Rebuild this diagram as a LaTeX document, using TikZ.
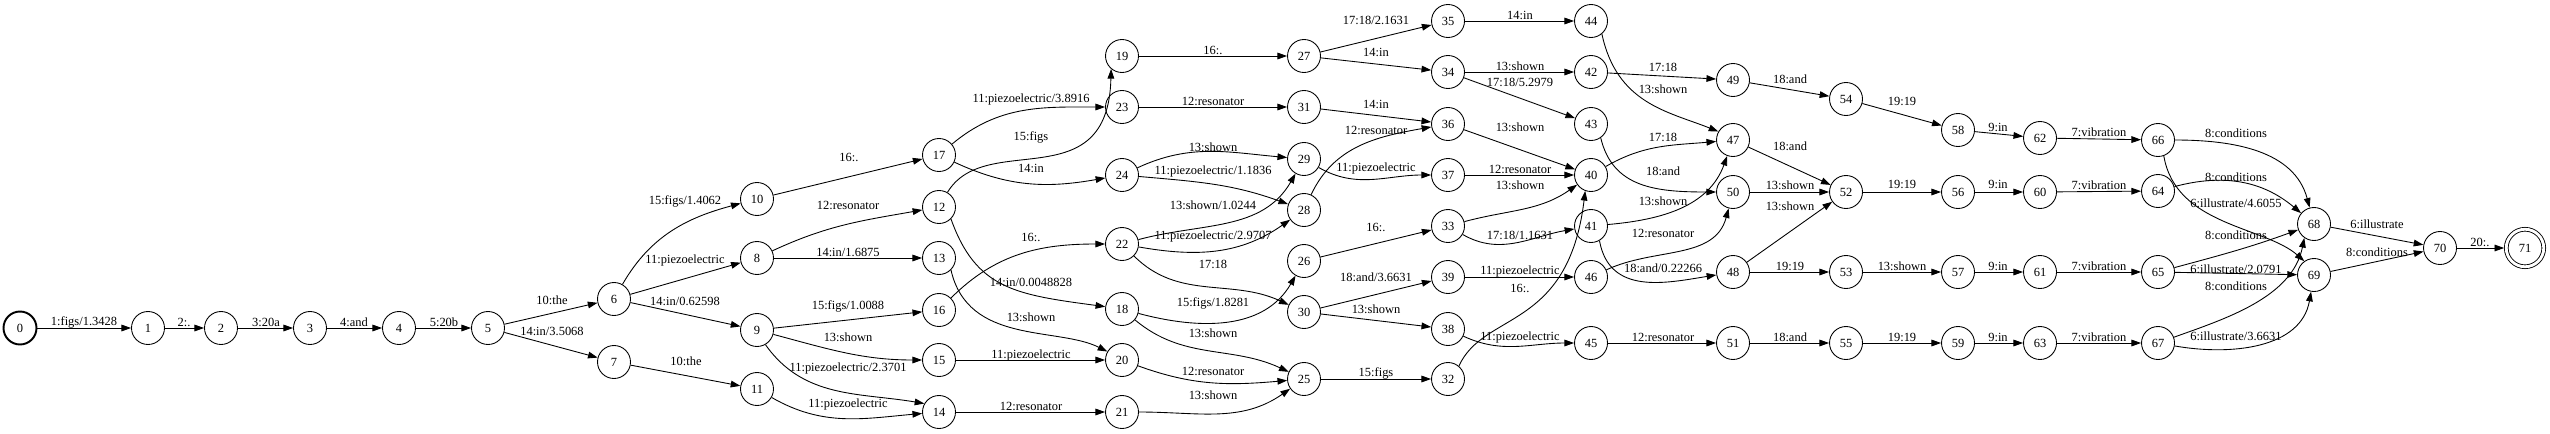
\documentclass[tikz,border=0pt]{standalone}
\usepackage{fontspec}
\setmainfont{Liberation Serif}
\usetikzlibrary{arrows.meta}
\begin{document}
\begin{tikzpicture}[x=0.02cm,y=0.02cm,
   state/.style={circle,draw,line width=0.5pt,minimum size=0.66cm,inner sep=0pt,font=\fontsize{7.1}{8}\selectfont},
   start/.style={state,line width=1.1pt},
   final/.style={state,double,double distance=1.6pt,minimum size=0.75cm,outer sep=1.2pt},
   arc/.style={line width=0.5pt,-{Triangle[length=5.5pt,width=3.8pt]}},
   lbl/.style={inner sep=0pt,font=\fontsize{7.1}{8}\selectfont}]
   \useasboundingbox (0,0) rectangle (2550,-433);
   \node [start] (s0) at (20,-328) {0};
   \node [state] (s1) at (148,-328) {1};
   \node [state] (s2) at (221,-328) {2};
   \node [state] (s3) at (310,-328) {3};
   \node [state] (s4) at (399,-328) {4};
   \node [state] (s5) at (488,-328) {5};
   \node [state] (s6) at (614,-299) {6};
   \node [state] (s7) at (614,-362) {7};
   \node [state] (s10) at (757,-199) {10};
   \node [state] (s8) at (757,-258) {8};
   \node [state] (s9) at (757,-330) {9};
   \node [state] (s11) at (757,-389) {11};
   \node [state] (s17) at (939,-155) {17};
   \node [state] (s12) at (939,-207) {12};
   \node [state] (s13) at (939,-258) {13};
   \node [state] (s16) at (939,-310) {16};
   \node [state] (s15) at (939,-360) {15};
   \node [state] (s14) at (939,-412) {14};
   \node [state] (s19) at (1122,-56) {19};
   \node [state] (s23) at (1122,-107) {23};
   \node [state] (s24) at (1122,-175) {24};
   \node [state] (s22) at (1122,-244) {22};
   \node [state] (s18) at (1122,-309) {18};
   \node [state] (s20) at (1122,-360) {20};
   \node [state] (s21) at (1122,-412) {21};
   \node [state] (s27) at (1304,-56) {27};
   \node [state] (s31) at (1304,-107) {31};
   \node [state] (s29) at (1304,-159) {29};
   \node [state] (s28) at (1304,-210) {28};
   \node [state] (s26) at (1304,-261) {26};
   \node [state] (s30) at (1304,-312) {30};
   \node [state] (s25) at (1304,-379) {25};
   \node [state] (s35) at (1448,-21) {35};
   \node [state] (s34) at (1448,-72) {34};
   \node [state] (s36) at (1448,-124) {36};
   \node [state] (s37) at (1448,-175) {37};
   \node [state] (s33) at (1448,-226) {33};
   \node [state] (s39) at (1448,-277) {39};
   \node [state] (s38) at (1448,-329) {38};
   \node [state] (s32) at (1448,-379) {32};
   \node [state] (s44) at (1591,-21) {44};
   \node [state] (s42) at (1591,-72) {42};
   \node [state] (s43) at (1591,-124) {43};
   \node [state] (s40) at (1591,-175) {40};
   \node [state] (s41) at (1591,-226) {41};
   \node [state] (s46) at (1591,-277) {46};
   \node [state] (s45) at (1591,-343) {45};
   \node [state] (s49) at (1733,-80) {49};
   \node [state] (s47) at (1733,-140) {47};
   \node [state] (s50) at (1733,-192) {50};
   \node [state] (s48) at (1733,-272) {48};
   \node [state] (s51) at (1733,-343) {51};
   \node [state] (s54) at (1846,-99) {54};
   \node [state] (s52) at (1846,-192) {52};
   \node [state] (s53) at (1846,-272) {53};
   \node [state] (s55) at (1846,-343) {55};
   \node [state] (s58) at (1958,-130) {58};
   \node [state] (s56) at (1958,-192) {56};
   \node [state] (s57) at (1958,-272) {57};
   \node [state] (s59) at (1958,-343) {59};
   \node [state] (s62) at (2040,-138) {62};
   \node [state] (s60) at (2040,-192) {60};
   \node [state] (s61) at (2040,-272) {61};
   \node [state] (s63) at (2040,-343) {63};
   \node [state] (s66) at (2158,-140) {66};
   \node [state] (s64) at (2158,-191) {64};
   \node [state] (s65) at (2158,-272) {65};
   \node [state] (s67) at (2158,-343) {67};
   \node [state] (s68) at (2314,-224) {68};
   \node [state] (s69) at (2314,-275) {69};
   \node [state] (s70) at (2440,-248) {70};
   \node [final] (s71) at (2525,-248) {71};
   \draw [arc] (s0) -- (s1);
   \draw [arc] (s1) -- (s2);
   \draw [arc] (s2) -- (s3);
   \draw [arc] (s3) -- (s4);
   \draw [arc] (s4) -- (s5);
   \draw [arc] (s5) -- (s6);
   \draw [arc] (s5) -- (s7);
   \draw [arc] (s6) to[out=60,in=195] (s10);
   \draw [arc] (s6) -- (s8);
   \draw [arc] (s6) -- (s9);
   \draw [arc] (s7) -- (s11);
   \draw [arc] (s10) -- (s17);
   \draw [arc] (s8) to[out=25,in=190] (s12);
   \draw [arc] (s8) -- (s13);
   \draw [arc] (s9) -- (s16);
   \draw [arc] (s9) to[out=-15,in=180] (s15);
   \draw [arc] (s9.-60) .. controls +(38,-54) and +(-65,11) .. (s14.150);
   \draw [arc] (s11) to[out=-30,in=185] (s14);
   \draw [arc] (s17) to[out=40,in=180] (s23);
   \draw [arc] (s17) to[out=-25,in=190] (s24);
   \draw [arc] (s12.60) .. controls +(38,63) and +(-3,-131) .. (s19.230);
   \draw [arc] (s12.-45) .. controls +(25,-70) and +(-90,12) .. (s18.172);
   \draw [arc] (s13.-45) .. controls +(17,-75) and +(-50,25) .. (s20.150);
   \draw [arc] (s16) to[out=45,in=180] (s22);
   \draw [arc] (s15) -- (s20);
   \draw [arc] (s14) -- (s21);
   \draw [arc] (s19) -- (s27);
   \draw [arc] (s23) -- (s31);
   \draw [arc] (s24) to[out=25,in=175] (s29);
   \draw [arc] (s24) to[out=-5,in=160] (s28);
   \draw [arc] (s22) to[out=15,in=240] (s29);
   \draw [arc] (s22) to[out=-10,in=215] (s28);
   \draw [arc] (s22) to[out=-45,in=155] (s30);
   \draw [arc] (s18) to[out=-15,in=240] (s26);
   \draw [arc] (s18) to[out=-40,in=155] (s25);
   \draw [arc] (s20) to[out=-20,in=185] (s25);
   \draw [arc] (s21) to[out=0,in=215] (s25);
   \draw [arc] (s27) -- (s35);
   \draw [arc] (s27) -- (s34);
   \draw [arc] (s31) -- (s36);
   \draw [arc] (s28) to[out=65,in=190] (s36);
   \draw [arc] (s29) to[out=-30,in=180] (s37);
   \draw [arc] (s26) -- (s33);
   \draw [arc] (s30) -- (s39);
   \draw [arc] (s30) -- (s38);
   \draw [arc] (s25) -- (s32);
   \draw [arc] (s35) -- (s44);
   \draw [arc] (s34) -- (s42);
   \draw [arc] (s34) -- (s43);
   \draw [arc] (s36) -- (s40);
   \draw [arc] (s37) -- (s40);
   \draw [arc] (s33) to[out=15,in=215] (s40);
   \draw [arc] (s33) to[out=-30,in=190] (s41);
   \draw [arc] (s39) -- (s46);
   \draw [arc] (s32.50) .. controls +(25,55) and +(-17,-140) .. (s40.250);
   \draw [arc] (s38) to[out=-25,in=180] (s45);
   \draw [arc] (s42) -- (s49);
   \draw [arc] (s44.-50) .. controls +(15,-70) and +(-50,20) .. (s47.150);
   \draw [arc] (s43.-55) .. controls +(12,-50) and +(-60,0) .. (s50.180);
   \draw [arc] (s40) to[out=30,in=185] (s47);
   \draw [arc] (s41) to[out=5,in=250] (s47);
   \draw [arc] (s46) to[out=25,in=255] (s50);
   \draw [arc] (s41.-60) .. controls +(10,-55) and +(-50,-8) .. (s48.190);
   \draw [arc] (s45) -- (s51);
   \draw [arc] (s49) -- (s54);
   \draw [arc] (s47) -- (s52);
   \draw [arc] (s50) -- (s52);
   \draw [arc] (s48) -- (s52);
   \draw [arc] (s48) -- (s53);
   \draw [arc] (s51) -- (s55);
   \draw [arc] (s54) -- (s58);
   \draw [arc] (s52) -- (s56);
   \draw [arc] (s53) -- (s57);
   \draw [arc] (s55) -- (s59);
   \draw [arc] (s58) -- (s62);
   \draw [arc] (s56) -- (s60);
   \draw [arc] (s57) -- (s61);
   \draw [arc] (s59) -- (s63);
   \draw [arc] (s62) -- (s66);
   \draw [arc] (s60) -- (s64);
   \draw [arc] (s61) -- (s65);
   \draw [arc] (s63) -- (s67);
   \draw [arc] (s66) to[out=0,in=105] (s68);
   \draw [arc] (s64) to[out=15,in=140] (s68);
   \draw [arc] (s66.-70) .. controls +(12,-70) and +(-40,35) .. (s69.125);
   \draw [arc] (s65) to[out=15,in=200] (s68);
   \draw [arc] (s65) -- (s69);
   \draw [arc] (s67.20) .. controls +(50,18) and +(-12,-60) .. (s68.235);
   \draw [arc] (s67) to[out=-10,in=260] (s69);
   \draw [arc] (s68) -- (s70);
   \draw [arc] (s69) -- (s70);
   \draw [arc] (s70) -- (s71);
   \node [lbl] (e0-1) at (84,-322) {1:figs/1.3428};
   \node [lbl] (e1-2) at (184,-322) {2:.};
   \node [lbl] (e2-3) at (266,-322) {3:20a};
   \node [lbl] (e3-4) at (354,-322) {4:and};
   \node [lbl] (e4-5) at (444,-322) {5:20b};
   \node [lbl] (e5-6) at (552,-300) {10:the};
   \node [lbl] (e5-7) at (552,-331) {14:in/3.5068};
   \node [lbl] (e6-10) at (685,-201) {15:figs/1.4062};
   \node [lbl] (e6-8) at (685,-260) {11:piezoelectric};
   \node [lbl] (e6-9) at (685,-301) {14:in/0.62598};
   \node [lbl] (e7-11) at (686,-361) {10:the};
   \node [lbl] (e10-17) at (849,-157) {16:.};
   \node [lbl] (e8-12) at (848,-205) {12:resonator};
   \node [lbl] (e8-13) at (848,-252) {14:in/1.6875};
   \node [lbl] (e9-16) at (848,-306) {15:figs/1.0088};
   \node [lbl] (e9-15) at (848,-337) {13:shown};
   \node [lbl] (e9-14) at (848,-368) {11:piezoelectric/2.3701};
   \node [lbl] (e11-14) at (848,-404) {11:piezoelectric};
   \node [lbl] (e17-23) at (1031,-99) {11:piezoelectric/3.8916};
   \node [lbl] (e12-19) at (1031,-137) {15:figs};
   \node [lbl] (e17-24) at (1031,-168) {14:in};
   \node [lbl] (e16-22) at (1031,-237) {16:.};
   \node [lbl] (e12-18) at (1031,-282) {14:in/0.0048828};
   \node [lbl] (e13-20) at (1031,-317) {13:shown};
   \node [lbl] (e15-20) at (1031,-355) {11:piezoelectric};
   \node [lbl] (e14-21) at (1031,-406) {12:resonator};
   \node [lbl] (e19-27) at (1213,-50) {16:.};
   \node [lbl] (e23-31) at (1213,-101) {12:resonator};
   \node [lbl] (e24-29) at (1213,-147) {13:shown};
   \node [lbl] (e24-28) at (1213,-171) {11:piezoelectric/1.1836};
   \node [lbl] (e22-29) at (1213,-205) {13:shown/1.0244};
   \node [lbl] (e22-28) at (1213,-236) {11:piezoelectric/2.9707};
   \node [lbl] (e22-30) at (1213,-264) {17:18};
   \node [lbl] (e18-26) at (1213,-303) {15:figs/1.8281};
   \node [lbl] (e18-25) at (1213,-333) {13:shown};
   \node [lbl] (e20-25) at (1213,-371) {12:resonator};
   \node [lbl] (e21-25) at (1213,-395) {13:shown};
   \node [lbl] (e27-35) at (1376,-20) {17:18/2.1631};
   \node [lbl] (e27-34) at (1376,-52) {14:in};
   \node [lbl] (e31-36) at (1376,-104) {14:in};
   \node [lbl] (e28-36) at (1376,-130) {12:resonator};
   \node [lbl] (e29-37) at (1376,-168) {11:piezoelectric};
   \node [lbl] (e26-33) at (1376,-227) {16:.};
   \node [lbl] (e30-39) at (1376,-277) {18:and/3.6631};
   \node [lbl] (e30-38) at (1376,-309) {13:shown};
   \node [lbl] (e25-32) at (1376,-373) {15:figs};
   \node [lbl] (e35-44) at (1520,-15) {14:in};
   \node [lbl] (e34-42) at (1520,-66) {13:shown};
   \node [lbl] (e34-43) at (1520,-82) {17:18/5.2979};
   \node [lbl] (e36-40) at (1520,-127) {13:shown};
   \node [lbl] (e37-40) at (1520,-169) {12:resonator};
   \node [lbl] (e33-40) at (1520,-185) {13:shown};
   \node [lbl] (e33-41) at (1520,-235) {17:18/1.1631};
   \node [lbl] (e39-46) at (1520,-271) {11:piezoelectric};
   \node [lbl] (e32-40) at (1520,-288) {16:.};
   \node [lbl] (e38-45) at (1520,-337) {11:piezoelectric};
   \node [lbl] (e42-49) at (1663,-67) {17:18};
   \node [lbl] (e44-47) at (1663,-89) {13:shown};
   \node [lbl] (e40-47) at (1663,-137) {17:18};
   \node [lbl] (e43-50) at (1663,-171) {18:and};
   \node [lbl] (e41-47) at (1663,-201) {13:shown};
   \node [lbl] (e46-50) at (1663,-233) {12:resonator};
   \node [lbl] (e41-48) at (1663,-268) {18:and/0.22266};
   \node [lbl] (e45-51) at (1663,-337) {12:resonator};
   \node [lbl] (e49-54) at (1790,-79) {18:and};
   \node [lbl] (e47-52) at (1790,-146) {18:and};
   \node [lbl] (e50-52) at (1790,-185) {13:shown};
   \node [lbl] (e48-52) at (1790,-206) {13:shown};
   \node [lbl] (e48-53) at (1790,-266) {19:19};
   \node [lbl] (e51-55) at (1790,-337) {18:and};
   \node [lbl] (e54-58) at (1902,-101) {19:19};
   \node [lbl] (e52-56) at (1902,-184) {19:19};
   \node [lbl] (e53-57) at (1902,-266) {13:shown};
   \node [lbl] (e55-59) at (1902,-337) {19:19};
   \node [lbl] (e58-62) at (1998,-127) {9:in};
   \node [lbl] (e56-60) at (1998,-184) {9:in};
   \node [lbl] (e57-61) at (1998,-266) {9:in};
   \node [lbl] (e59-63) at (1998,-337) {9:in};
   \node [lbl] (e62-66) at (2099,-132) {7:vibration};
   \node [lbl] (e60-64) at (2099,-185) {7:vibration};
   \node [lbl] (e61-65) at (2099,-266) {7:vibration};
   \node [lbl] (e63-67) at (2099,-337) {7:vibration};
   \node [lbl] (e66-68) at (2236,-133) {8:conditions};
   \node [lbl] (e64-68) at (2236,-177) {8:conditions};
   \node [lbl] (e66-69) at (2236,-203) {6:illustrate/4.6055};
   \node [lbl] (e65-68) at (2236,-235) {8:conditions};
   \node [lbl] (e65-69) at (2236,-269) {6:illustrate/2.0791};
   \node [lbl] (e67-68) at (2236,-286) {8:conditions};
   \node [lbl] (e67-69) at (2236,-336) {6:illustrate/3.6631};
   \node [lbl] (e68-70) at (2377,-224) {6:illustrate};
   \node [lbl] (e69-70) at (2377,-252) {8:conditions};
   \node [lbl] (e70-71) at (2480,-242) {20:.};
  \end{tikzpicture}
\end{document}
